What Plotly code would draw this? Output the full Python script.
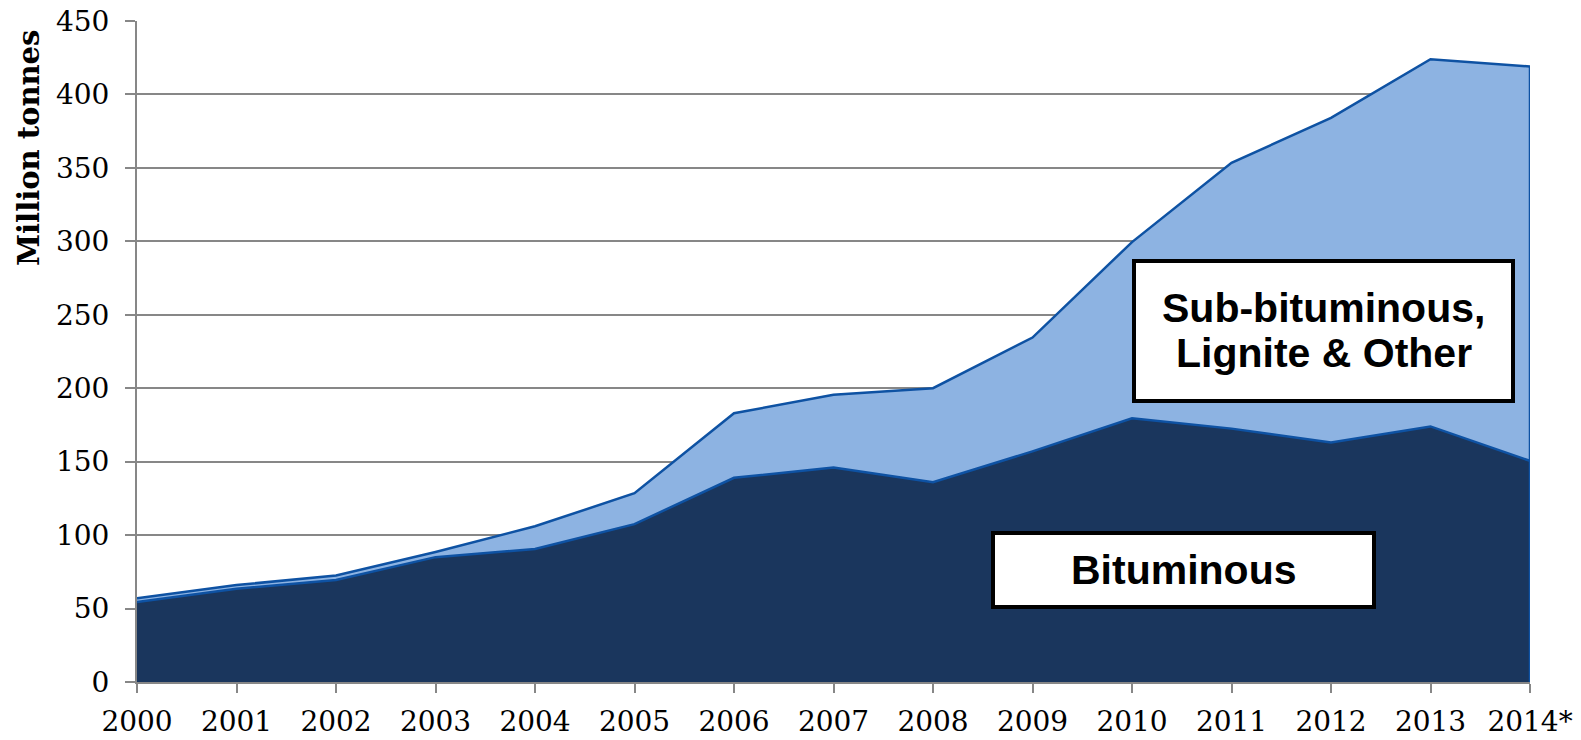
import plotly.graph_objects as go

years = ["2000", "2001", "2002", "2003", "2004", "2005", "2006", "2007",
         "2008", "2009", "2010", "2011", "2012", "2013", "2014*"]
bituminous = [54.5, 63.5, 69.5, 85, 90.5, 107.5, 139, 146, 136, 157,
              179.5, 172.5, 163, 174, 150.5]
sub_lignite_other = [2.5, 2.5, 3, 3.5, 15.5, 21, 44, 49.5, 64, 77.5,
                     120, 181, 221, 250, 268.5]
y_ticks = [0, 50, 100, 150, 200, 250, 300, 350, 400, 450]

DARK = "#1a365d"
LIGHT = "#8db3e2"
EDGE = "#0e52a3"
GRID = "#878787"
SERIF = "DejaVu Serif"

fig = go.Figure()
fig.add_trace(go.Scatter(
    x=years, y=bituminous, stackgroup="one", mode="lines",
    line=dict(color=EDGE, width=2.5), fillcolor=DARK,
    name="Bituminous", hoverinfo="skip"))
fig.add_trace(go.Scatter(
    x=years, y=sub_lignite_other, stackgroup="one", mode="lines",
    line=dict(color=EDGE, width=2.5), fillcolor=LIGHT,
    name="Sub-bituminous, Lignite & Other", hoverinfo="skip"))

# right edge outline of the stacked area
total_last = bituminous[-1] + sub_lignite_other[-1]
fig.add_trace(go.Scatter(
    x=[years[-1], years[-1]], y=[0, total_last], mode="lines",
    line=dict(color=EDGE, width=2.5), hoverinfo="skip", showlegend=False))

# page body has an 8px margin: compensate so the plot lands where intended
OFF = 8
W, H = 1581 - OFF, 740 - OFF
L, R, T, B = 137 - OFF, 51, 21 - OFF, 58
pw, ph = W - L - R, H - T - B


def px(x):
    return (x - OFF - L) / pw


def py(y):
    return (OFF + H - B - y) / ph


shapes = [
    dict(type="rect", xref="paper", yref="paper",
         x0=px(1134), x1=px(1513), y0=py(401), y1=py(261),
         line=dict(color="black", width=4), fillcolor="white", layer="above"),
    dict(type="rect", xref="paper", yref="paper",
         x0=px(993), x1=px(1374), y0=py(607), y1=py(533),
         line=dict(color="black", width=4), fillcolor="white", layer="above"),
]

label_font = dict(family="Liberation Sans, Arial", size=41, color="black")
annotations = [
    dict(text="<b>Sub-bituminous,</b>", xref="paper", yref="paper",
         x=px(1323.5), y=py(323), xanchor="center", yanchor="bottom",
         showarrow=False, font=label_font, yshift=-10),
    dict(text="<b>Lignite & Other</b>", xref="paper", yref="paper",
         x=px(1323.5), y=py(368), xanchor="center", yanchor="bottom",
         showarrow=False, font=label_font, yshift=-10),
    dict(text="<b>Bituminous</b>", xref="paper", yref="paper",
         x=px(1183.5), y=py(570), xanchor="center", yanchor="middle",
         showarrow=False, font=label_font),
    dict(text="<b>Million tonnes</b>", xref="paper", yref="paper",
         x=px(29), y=py(148), xanchor="center", yanchor="middle",
         textangle=-90, showarrow=False,
         font=dict(family=SERIF, size=29, color="black")),
]

fig.update_layout(
    width=W, height=H,
    margin=dict(l=L, r=R, t=T, b=B, pad=0, autoexpand=False),
    paper_bgcolor="white", plot_bgcolor="white",
    showlegend=False,
    shapes=shapes, annotations=annotations,
    xaxis=dict(
        type="category", range=[0, len(years) - 1], automargin=False,
        showgrid=False, zeroline=False,
        showline=True, linecolor=GRID, linewidth=2,
        ticks="outside", ticklen=9, tickwidth=2, tickcolor=GRID,
        tickfont=dict(family=SERIF, size=28, color="black"),
        ticklabelstandoff=4, ticklabeloverflow="allow",
    ),
    yaxis=dict(
        range=[0, 450], tickvals=y_ticks, automargin=False,
        showgrid=True, gridcolor=GRID, gridwidth=2,
        zeroline=False,
        showline=True, linecolor=GRID, linewidth=2,
        ticks="outside", ticklen=10, tickwidth=2, tickcolor=GRID,
        tickfont=dict(family=SERIF, size=28, color="black"),
        ticklabelstandoff=10, ticklabeloverflow="allow",
    ),
)

fig.write_html("out.html")
